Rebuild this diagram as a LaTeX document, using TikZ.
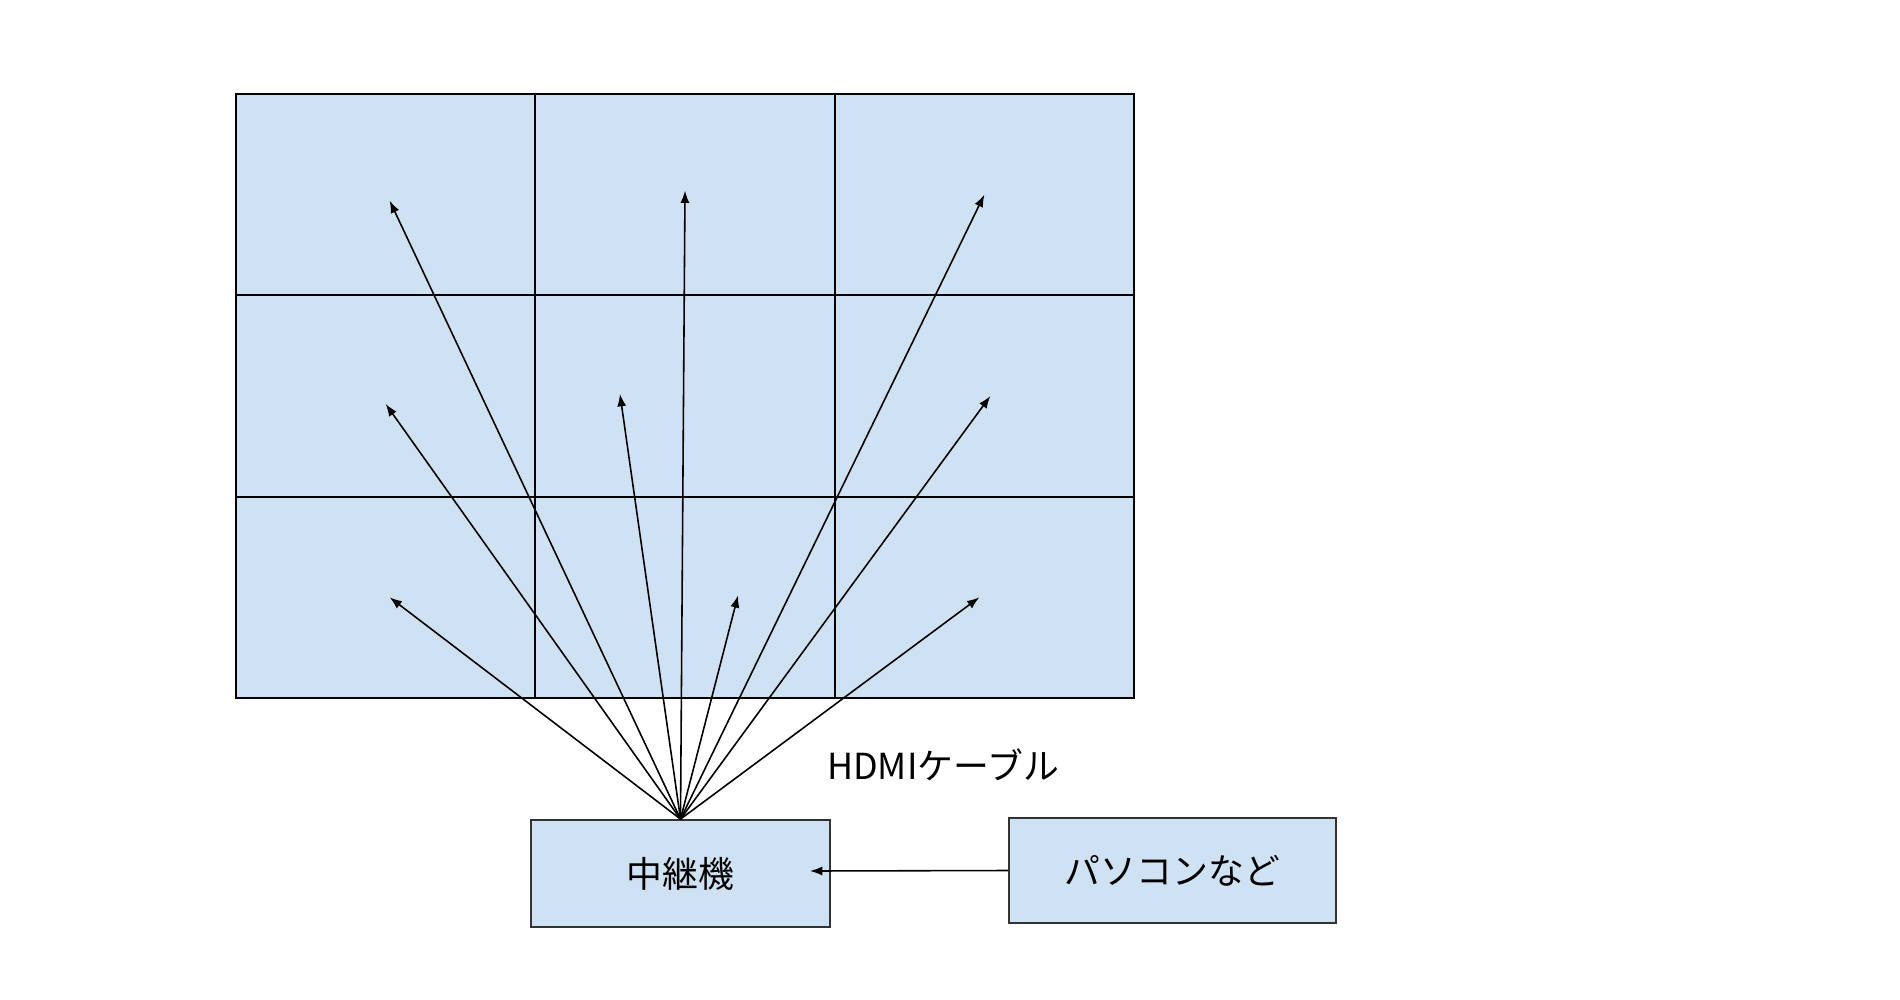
\documentclass[tikz,border=0pt]{standalone}
\usepackage{fontspec}
\setmainfont{Noto Sans CJK JP}
\usetikzlibrary{arrows.meta}
\definecolor{panelBlue}{HTML}{CFE2F3}

\begin{document}
\begin{tikzpicture}[
  x=0.01cm, y=-0.01cm,
  every node/.style={font=\fontsize{10.2}{12}\selectfont, align=center},
  cell/.style={
    fill=panelBlue,
    draw=black,
    line width=0.55pt,
    minimum width=2.993cm,
    minimum height=2.013cm,
    inner sep=0pt,
    outer sep=0pt
  },
  device/.style={
    fill=panelBlue,
    draw=black!80,
    line width=0.5pt,
    inner sep=0pt
  },
  cable/.style={draw, -{Latex[length=3.5pt,width=2.6pt]}, line width=0.45pt}
]
\useasboundingbox (0,0) rectangle (1900,1000);

% 3x3 display wall
\foreach \r in {1,2,3}
  \foreach \c in {1,2,3}
    \node[cell] (c\r\c) at ({236+299.33*(\c-0.5)},{94+201.33*(\r-0.5)}) {};

\node[device, minimum width=2.99cm, minimum height=1.07cm] (relay) at (680.5,873.5) {中継機};
\node[device, minimum width=3.27cm, minimum height=1.05cm] (pc) at (1172.5,870.5) {パソコンなど};

\node (cablelabel) at (943,765) {HDMIケーブル};

\coordinate (relayin) at (810,871);

% cables to every screen
\foreach \t/\dx/\dy in {c11/0.04/-0.06, c12/0/0.04, c13/0/0, c21/0/-0.08, c22/-0.65/0.02,
                        c23/0.06/0, c31/0.04/0, c32/0.53/0.02, c33/-0.05/0}
  \draw[cable] (relay.north) -- ([xshift=\dx cm, yshift=\dy cm]\t.center);

\draw[cable] (pc.west) -- (relayin);

\end{tikzpicture}
\end{document}
